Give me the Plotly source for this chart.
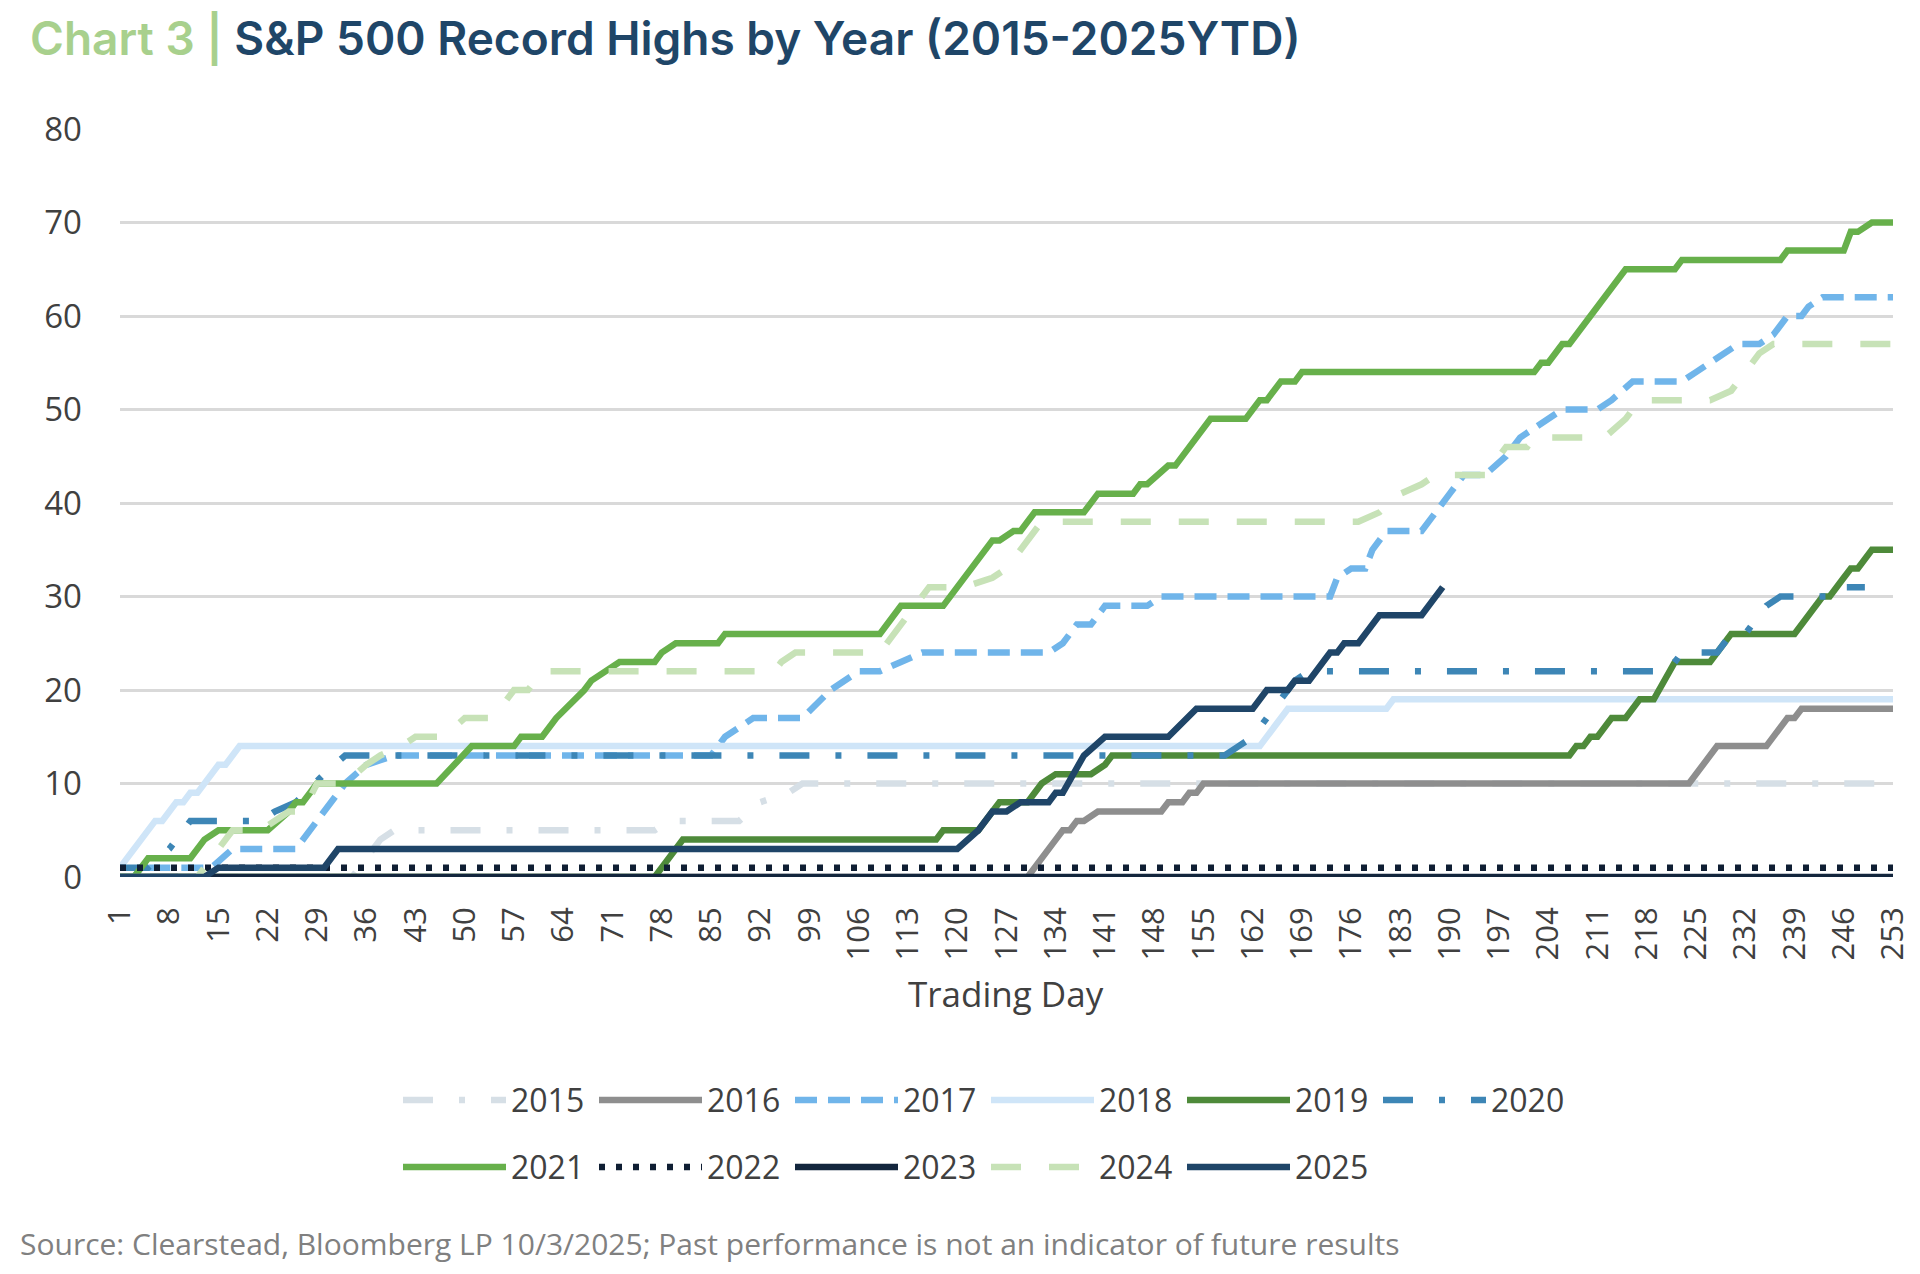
import plotly.graph_objects as go

# ---------------- data (trading day, cumulative record highs) ----------------
days_2015 = [1, 34, 35, 38, 40, 77, 79, 89, 92, 96, 98, 253]
highs_2015 = [0, 0, 1, 4, 5, 5, 6, 6, 8, 9, 10, 10]

days_2016 = [1, 130, 134, 135, 136, 137, 138, 140, 149, 150, 152, 153, 154, 155, 224, 228, 235, 238, 239, 240, 253]
highs_2016 = [0, 0, 4, 5, 5, 6, 6, 7, 7, 8, 8, 9, 9, 10, 10, 14, 14, 17, 17, 18, 18]

days_2017 = [1, 3, 4, 14, 17, 26, 33, 36, 40, 85, 87, 89, 91, 98, 102, 106, 109, 112, 115, 133,
             135, 137, 139, 141, 147, 149, 173, 174, 176, 178, 179, 181, 186, 190, 192, 195, 198, 200, 202, 204,
             206, 211, 213, 216, 223, 225, 227, 229, 231, 234, 236, 238, 240, 241, 243, 253]
highs_2017 = [0, 0, 1, 1, 3, 3, 10, 12, 13, 13, 15, 16, 17, 17, 20, 22, 22, 23, 24, 24,
              25, 27, 27, 29, 29, 30, 30, 32, 33, 33, 35, 37, 37, 41, 43, 43, 45, 47, 48, 49,
              50, 50, 51, 53, 53, 54, 55, 56, 57, 57, 58, 60, 60, 61, 62, 62]

days_2018 = [1, 6, 7, 8, 9, 10, 11, 12, 15, 16, 18, 163, 167, 181, 182, 253]
highs_2018 = [1, 6, 6, 7, 8, 8, 9, 9, 12, 12, 14, 14, 18, 18, 19, 19]

days_2019 = [1, 77, 81, 117, 118, 123, 126, 130, 132, 134, 139, 141, 142, 207, 208, 209, 210, 211, 213, 215,
             217, 219, 222, 227, 230, 239, 243, 244, 246, 247, 248, 250, 253]
highs_2019 = [0, 0, 4, 4, 5, 5, 8, 8, 10, 11, 11, 12, 13, 13, 14, 14, 15, 15, 17, 17,
              19, 19, 23, 23, 26, 26, 30, 30, 32, 33, 33, 35, 35]

days_2020 = [1, 5, 8, 10, 11, 21, 23, 26, 30, 33, 158, 160, 162, 166, 168, 170, 221, 223, 228, 230,
             232, 235, 237, 244, 245, 249]
highs_2020 = [1, 1, 3, 5, 6, 6, 7, 8, 11, 13, 13, 14, 15, 19, 21, 22, 22, 24, 24, 26,
              26, 29, 30, 30, 31, 31]

days_2021 = [1, 3, 5, 11, 13, 15, 22, 25, 26, 27, 29, 46, 51, 57, 58, 61, 63, 67, 68, 70,
             72, 77, 78, 80, 86, 87, 109, 112, 118, 125, 126, 128, 129, 131, 138, 140, 145, 146, 147, 150,
             151, 156, 161, 163, 164, 166, 168, 169, 202, 203, 204, 206, 207, 215, 222, 223, 237, 238, 246, 247,
             248, 250, 253]
highs_2021 = [0, 0, 2, 2, 4, 5, 5, 7, 8, 8, 10, 10, 14, 14, 15, 15, 17, 20, 21, 22,
              23, 23, 24, 25, 25, 26, 26, 29, 29, 36, 36, 37, 37, 39, 39, 41, 41, 42, 42, 44,
              44, 49, 49, 51, 51, 53, 53, 54, 54, 55, 55, 57, 57, 65, 65, 66, 66, 67, 67, 69,
              69, 70, 70]

days_2022 = [1, 253]
highs_2022 = [1, 1]

days_2023 = [1, 253]
highs_2023 = [0, 0]

days_2024 = [1, 12, 17, 21, 25, 27, 29, 33, 36, 38, 41, 43, 47, 50, 54, 57, 59, 61, 94, 95,
             97, 109, 115, 116, 121, 125, 127, 131, 132, 177, 180, 183, 186, 188, 195, 198, 201, 202, 212, 215,
             217, 227, 230, 232, 234, 236, 253]
highs_2024 = [0, 0, 5, 5, 7, 7, 10, 10, 12, 13, 14, 15, 15, 17, 17, 20, 20, 22, 22, 23,
              24, 24, 30, 31, 31, 32, 33, 37, 38, 38, 39, 41, 42, 43, 43, 46, 46, 47, 47, 49,
              51, 51, 52, 54, 56, 57, 57]

days_2025 = [1, 13, 15, 30, 32, 120, 123, 125, 127, 129, 133, 134, 135, 138, 141, 150, 154, 162, 164, 167,
             168, 170, 173, 174, 175, 177, 180, 186, 189]
highs_2025 = [0, 0, 1, 1, 3, 3, 5, 7, 7, 8, 8, 9, 9, 13, 15, 15, 18, 18, 20, 20,
              21, 21, 24, 24, 25, 25, 28, 28, 31]

x_ticks = list(range(1, 254, 7))
y_ticks = [0, 10, 20, 30, 40, 50, 60, 70, 80]

# ---------------- styling ----------------
series = [
    ("2015", days_2015, highs_2015, "#d6dfe6", "30px,26px,6px,26px", "legend"),
    ("2016", days_2016, highs_2016, "#8e8e8e", "solid", "legend"),
    ("2017", days_2017, highs_2017, "#70b5ea", "22px,11px", "legend"),
    ("2018", days_2018, highs_2018, "#cfe5f8", "solid", "legend"),
    ("2019", days_2019, highs_2019, "#4e8a3a", "solid", "legend"),
    ("2020", days_2020, highs_2020, "#3d86b6", "30px,26px,6px,26px", "legend"),
    ("2021", days_2021, highs_2021, "#67b04b", "solid", "legend2"),
    ("2022", days_2022, highs_2022, "#0f1e33", "6px,11px", "legend2"),
    ("2023", days_2023, highs_2023, "#13263d", "solid", "legend2"),
    ("2024", days_2024, highs_2024, "#c7e2b7", "30px,28px", "legend2"),
    ("2025", days_2025, highs_2025, "#1f4568", "solid", "legend2"),
]

fig = go.Figure()
for name, xs, ys, color, dash, leg in series:
    fig.add_trace(go.Scatter(
        x=xs, y=ys, name=name, mode="lines",
        line=dict(color=color, width=6.5, dash=dash),
        legend=leg, hoverinfo="skip",
    ))

# the page body has an 8px margin; size the figure so it fits the 1920x1274 window
OFF = 8
W, H = 1920 - 2 * OFF, 1274 - 2 * OFF
PL, PR, PT, PB = 120, 1893, 128.6, 876.8          # plot area in page pixels
L, R, T, B = PL - OFF, W - (PR - OFF), PT - OFF, H - (PB - OFF)
pw, ph = PR - PL, PB - PT


def px(xp):
    return (xp - PL) / pw


def py(yp):
    return (PB - yp) / ph


font_main = "Open Sans"
leg_common = dict(orientation="h", xanchor="left", yanchor="middle",
                  font=dict(size=32, color="#404040", family=font_main),
                  itemwidth=103, entrywidth=78, entrywidthmode="pixels",
                  bgcolor="rgba(0,0,0,0)", traceorder="normal")
fig.update_layout(
    width=W, height=H,
    margin=dict(l=L, r=R, t=T, b=B, autoexpand=False),
    paper_bgcolor="white", plot_bgcolor="white",
    font=dict(family=font_main, color="#404040", size=32),
    showlegend=True,
    legend=dict(x=px(398), y=py(1100), **leg_common),
    legend2=dict(x=px(398), y=py(1167), **leg_common),
    xaxis=dict(range=[1, 253], tickvals=x_ticks, ticktext=[str(v) for v in x_ticks],
               tickangle=-90, showgrid=False, zeroline=False, showline=False,
               tickfont=dict(size=31, color="#404040"), ticklabelstandoff=23,
               ticklabeloverflow="allow", fixedrange=True),
    yaxis=dict(range=[0, 80], tickvals=y_ticks, showgrid=True, gridcolor="#d9d9d9",
               gridwidth=2.5, zeroline=False, showline=False,
               tickfont=dict(size=33, color="#404040"), ticklabelstandoff=37,
               fixedrange=True),
)

annotations = [
    dict(text="<span style='color:#a8d08d'>Chart 3 | </span>"
              "<span style='color:#1f4668'>S&P 500 Record Highs by Year (2015-2025YTD)</span>",
         xref="paper", yref="paper", x=px(28), y=py(38), xanchor="left", yanchor="middle",
         showarrow=False, font=dict(family="Inter", size=46, weight=600)),
    dict(text="Trading Day", xref="paper", yref="paper", x=px(1006), y=py(993),
         xanchor="center", yanchor="middle", showarrow=False,
         font=dict(family=font_main, size=35, color="#404040")),
    dict(text="Source: Clearstead, Bloomberg LP 10/3/2025; Past performance is not an indicator of future results",
         xref="paper", yref="paper", x=px(18), y=py(1243), xanchor="left", yanchor="middle",
         showarrow=False, font=dict(family=font_main, size=30, color="#808080")),
]
fig.update_layout(annotations=annotations)

fig.write_html("out.html", config={"displayModeBar": False})
